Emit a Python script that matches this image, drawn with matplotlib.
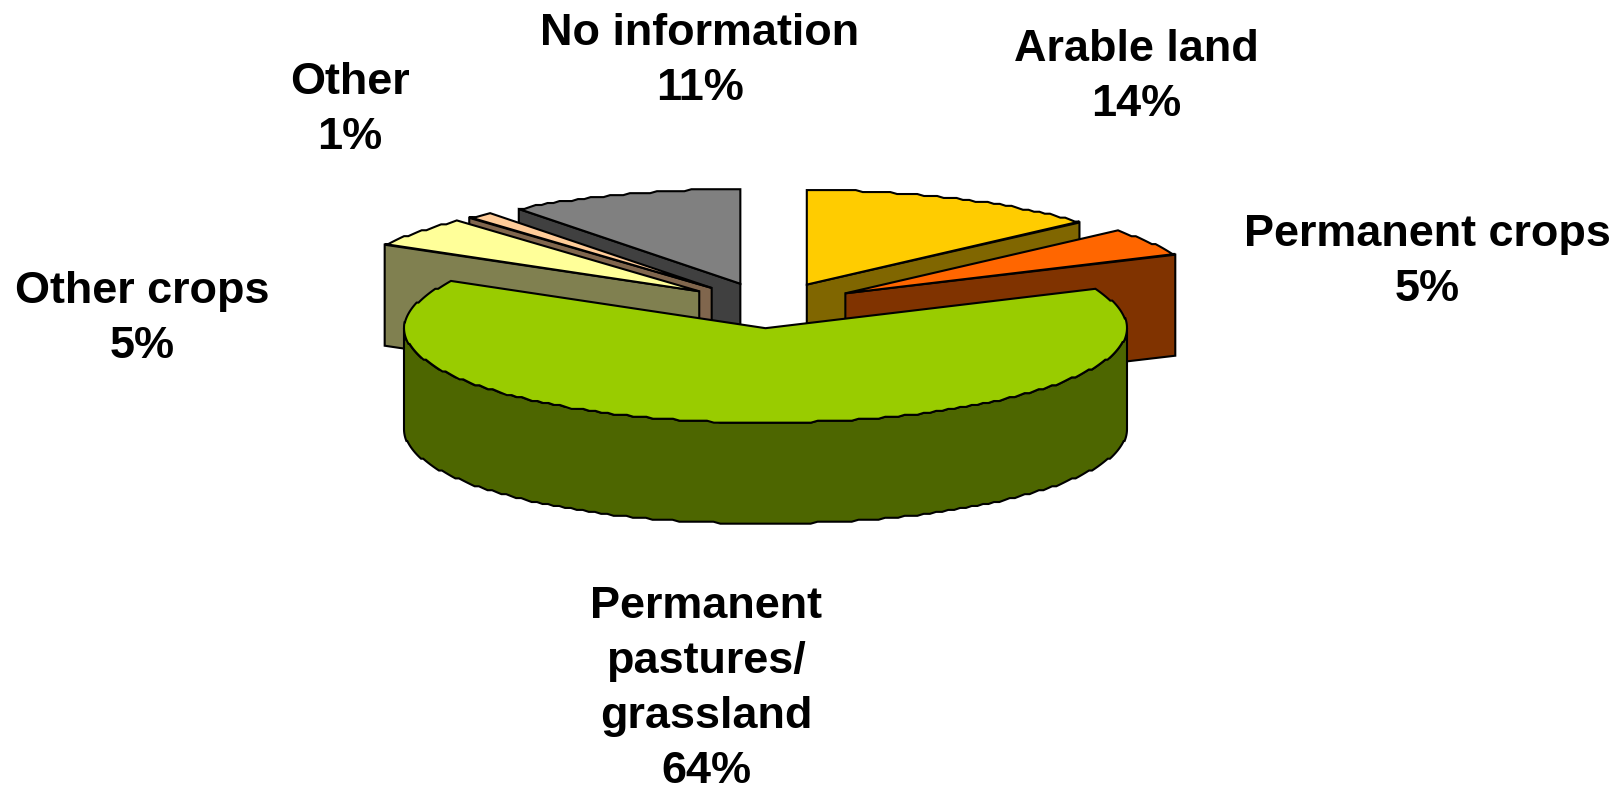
import numpy as np
import matplotlib
matplotlib.use("Agg")
import matplotlib.pyplot as plt
from matplotlib.patches import Polygon

plt.rcParams['font.family'] = ['Liberation Sans', 'DejaVu Sans']

# Data (clockwise from 12 o'clock)
categories = ["Arable land", "Permanent crops", "Permanent\npastures/\ngrassland",
              "Other crops", "Other", "No information"]
shares = [13.6, 4.7, 64.9, 5.1, 1.2, 10.5]
share_labels = ["14%", "5%", "64%", "5%", "1%", "11%"]

# Styles
top_colors = ["#FFCC00", "#FF6600", "#99CC00", "#FFFF99", "#FFCC99", "#808080"]
side_colors = ["#806600", "#803300", "#4D6600", "#808050", "#80664D", "#404040"]
draw_order = [5, 4, 3, 0, 1, 2]
explode = [0.249, 0.249, 0.235, 0.249, 0.249, 0.249]
label_pos = [(1136, 77), (1427, 262), (706, 689), (142, 319), (350, 110), (700, 61)]

# Projection of the pie, in figure pixels
CX, CY = 769.5, 306.0
RX, RY = 361.5, 94.5
DEPTH = 101.0
STEP = RY / 48


def ell(c, ang):
    ang = np.radians(ang)
    return c[0] + RX * np.cos(ang), c[1] - RY * np.sin(ang)


def arc(c, a0, a1, dy=0.0):
    """Polyline from a0 to a1 with the coarse, stepped look of the original."""
    n = max(int(abs(a1 - a0) / 1.1), 1)
    ang = np.linspace(a0, a1, n + 1)
    x, y = ell(c, ang)
    y = np.round((y - c[1]) / STEP) * STEP + c[1] + dy
    return np.column_stack([x, y])


fig = plt.figure(figsize=(16.24, 7.91), dpi=100)
ax = fig.add_axes([0, 0, 1, 1])
ax.set_xlim(0, 1624)
ax.set_ylim(791, 0)
ax.axis("off")

kw = dict(edgecolor="black", linewidth=1.5, joinstyle="miter")
edges = 90 - np.concatenate([[0], np.cumsum(shares)]) * 3.6 / (sum(shares) / 100)

z = 1
for i in draw_order:
    a0, a1 = edges[i], edges[i + 1]
    mid = np.radians((a0 + a1) / 2)
    c = (CX + explode[i] * RX * np.cos(mid), CY - explode[i] * RY * np.sin(mid))

    # flat cut faces that look towards the viewer
    for a, visible in ((a0, np.cos(np.radians(a0)) < -1e-6),
                       (a1, np.cos(np.radians(a1)) > 1e-6)):
        if visible:
            p = ell(c, a)
            quad = [c, p, (p[0], p[1] + DEPTH), (c[0], c[1] + DEPTH)]
            ax.add_patch(Polygon(quad, closed=True, facecolor=side_colors[i], zorder=z, **kw))
            z += 1

    # outer wall: the part of the arc on the front half of the ellipse
    k0 = np.ceil((a1 - 180) / 360)
    for k in range(int(k0) - 1, int(k0) + 2):
        lo = max(a1, -180 + 360 * k)
        hi = min(a0, 360 * k)
        if hi > lo:
            t = arc(c, hi, lo)
            b = arc(c, lo, hi, DEPTH)
            ax.add_patch(Polygon(np.vstack([t, b]), closed=True,
                                 facecolor=side_colors[i], zorder=z, **kw))
            z += 1

    # top face
    poly = np.vstack([[c], arc(c, a0, a1)])
    ax.add_patch(Polygon(poly, closed=True, facecolor=top_colors[i], zorder=z, **kw))
    z += 1

for name, share, (x, y) in zip(categories, share_labels, label_pos):
    ax.text(x, y, f"{name}\n{share}", ha="center", va="center", fontsize=32.4,
            fontweight="bold", color="black", linespacing=1.44, zorder=z)

fig.savefig("out.png", dpi=100)
